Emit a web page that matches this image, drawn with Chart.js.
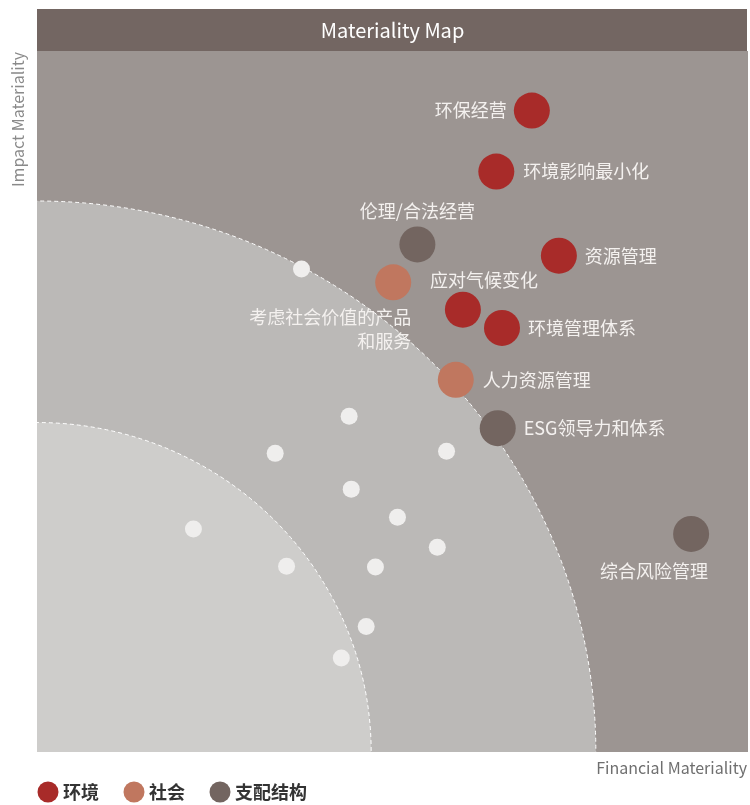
<!DOCTYPE html>
<html>
<head>
<meta charset="utf-8">
<script src="https://cdn.jsdelivr.net/npm/chart.js@4/dist/chart.umd.min.js"></script>
<style>
  html, body { margin: 0; padding: 0; background: #ffffff; overflow: hidden; }
  #wrap { width: 750px; height: 805px; position: relative; overflow: hidden; }
</style>
</head>
<body>
<div id="wrap"><canvas id="c"></canvas></div>
<script>
// ---------- DATA ----------
const chartTitle = 'Materiality Map';
const xAxisTitle = 'Financial Materiality';
const yAxisTitle = 'Impact Materiality';
const categories = ['环境', '社会', '支配结构'];

// 环境 (Environment)
const envNames = ['环保经营', '环境影响最小化', '资源管理', '应对气候变化', '环境管理体系'];
const envX = [6.96, 6.46, 7.34, 5.99, 6.54];
const envY = [9.15, 8.28, 7.08, 6.31, 6.05];

// 社会 (Social)
const socNames = ['考虑社会价值的产品\n和服务', '人力资源管理'];
const socX = [5.01, 5.89];
const socY = [6.70, 5.31];

// 支配结构 (Governance)
const govNames = ['伦理/合法经营', 'ESG领导力和体系', '综合风险管理'];
const govX = [5.35, 6.48, 9.20];
const govY = [7.24, 4.62, 3.11];

// Other (unlabelled) issues
const otherX = [3.72, 4.39, 3.35, 5.76, 4.42, 5.07, 2.20, 5.63, 3.51, 4.76, 4.63, 4.28];
const otherY = [6.89, 4.79, 4.26, 4.29, 3.75, 3.35, 3.18, 2.92, 2.65, 2.64, 1.79, 1.34];

// zone boundaries (radius in axis units, centred on origin)
const zoneRadii = [4.70, 7.86];

// ---------- STYLE ----------
const colors = { env: '#a82b29', soc: '#c0775f', gov: '#736560', other: '#efeeed' };
const zoneColors = ['#cecdcb', '#bbb9b7', '#9c9592'];
const FONT = '"Noto Sans CJK SC", "Noto Sans", sans-serif';

// label placement relative to the point (pixels)
const labelPlacement = {
  '环保经营': { dx: -25, dy: 0, align: 'right' },
  '环境影响最小化': { dx: 27, dy: 0, align: 'left' },
  '资源管理': { dx: 26, dy: 0, align: 'left' },
  '应对气候变化': { dx: -33, dy: -30, align: 'left' },
  '环境管理体系': { dx: 26, dy: 0, align: 'left' },
  '考虑社会价值的产品\n和服务': { dx: 18, dy: 35, align: 'right' },
  '人力资源管理': { dx: 27, dy: 0, align: 'left' },
  '伦理/合法经营': { dx: 0, dy: -33, align: 'center' },
  'ESG领导力和体系': { dx: 26, dy: 0, align: 'left' },
  '综合风险管理': { dx: -37, dy: 37, align: 'center' }
};

function pts(xs, ys) { return xs.map((x, i) => ({ x: x, y: ys[i] })); }

const datasets = [
  { label: 'other', names: [], data: pts(otherX, otherY), backgroundColor: colors.other, pointRadius: 8.5 },
  { label: categories[0], names: envNames, data: pts(envX, envY), backgroundColor: colors.env, pointRadius: 18 },
  { label: categories[1], names: socNames, data: pts(socX, socY), backgroundColor: colors.soc, pointRadius: 18 },
  { label: categories[2], names: govNames, data: pts(govX, govY), backgroundColor: colors.gov, pointRadius: 18 }
];
datasets.forEach(d => { d.borderWidth = 0; d.pointHoverRadius = d.pointRadius; d.pointBorderWidth = 0; });

const decorPlugin = {
  id: 'decor',
  beforeDraw(chart) {
    const ctx = chart.ctx, a = chart.chartArea;
    const xs = chart.scales.x, ys = chart.scales.y;
    ctx.save();
    ctx.fillStyle = '#ffffff';
    ctx.fillRect(0, 0, chart.width, chart.height);
    // title bar
    ctx.fillStyle = '#736662';
    ctx.fillRect(a.left, 9, a.right - a.left - 1, a.top - 9);
    ctx.fillStyle = '#ffffff';
    ctx.font = '20px ' + FONT;
    ctx.textAlign = 'center';
    ctx.textBaseline = 'middle';
    ctx.fillText(chartTitle, (a.left + a.right) / 2, 30);
    // zones
    ctx.beginPath();
    ctx.rect(a.left, a.top, a.right - a.left, a.bottom - a.top);
    ctx.clip();
    ctx.fillStyle = zoneColors[2];
    ctx.fillRect(a.left, a.top, a.right - a.left, a.bottom - a.top);
    const cx = xs.getPixelForValue(0), cy = ys.getPixelForValue(0);
    for (let i = zoneRadii.length - 1; i >= 0; i--) {
      const rx = xs.getPixelForValue(zoneRadii[i]) - cx;
      const ry = cy - ys.getPixelForValue(zoneRadii[i]);
      ctx.beginPath();
      ctx.ellipse(cx, cy, rx, ry, 0, 0, Math.PI * 2);
      ctx.fillStyle = zoneColors[i];
      ctx.fill();
    }
    ctx.setLineDash([4, 3]);
    ctx.strokeStyle = '#ffffff';
    ctx.lineWidth = 1;
    zoneRadii.forEach(r => {
      const rx = xs.getPixelForValue(r) - cx;
      const ry = cy - ys.getPixelForValue(r);
      ctx.beginPath();
      ctx.ellipse(cx, cy, rx, ry, 0, 0, Math.PI * 2);
      ctx.stroke();
    });
    ctx.restore();
  },
  afterDatasetsDraw(chart) {
    const ctx = chart.ctx, a = chart.chartArea;
    ctx.save();
    // point labels
    ctx.fillStyle = '#f4f1ef';
    ctx.font = '18px ' + FONT;
    ctx.textBaseline = 'middle';
    chart.data.datasets.forEach((ds, di) => {
      const meta = chart.getDatasetMeta(di);
      (ds.names || []).forEach((name, i) => {
        const el = meta.data[i];
        const p = labelPlacement[name] || { dx: 26, dy: 0, align: 'left' };
        ctx.textAlign = p.align;
        name.split('\n').forEach((line, li) => {
          ctx.fillText(line, el.x + p.dx, el.y + p.dy + li * 24);
        });
      });
    });
    // axis titles
    ctx.fillStyle = '#6f6f6f';
    ctx.font = '16px ' + FONT;
    ctx.textAlign = 'right';
    ctx.textBaseline = 'middle';
    ctx.fillText(xAxisTitle, a.right - 1, 768);
    ctx.save();
    ctx.translate(18, a.top + 1);
    ctx.rotate(-Math.PI / 2);
    ctx.textAlign = 'right';
    ctx.fillStyle = '#8a8a8a';
    ctx.fillText(yAxisTitle, 0, 0);
    ctx.restore();
    // legend
    const legendX = [48, 134, 220];
    ctx.font = 'bold 18px ' + FONT;
    ctx.textAlign = 'left';
    chart.data.datasets.slice(1).forEach((ds, i) => {
      ctx.fillStyle = ds.backgroundColor;
      ctx.beginPath();
      ctx.arc(legendX[i], 792, 10.5, 0, Math.PI * 2);
      ctx.fill();
      ctx.fillStyle = '#333333';
      ctx.fillText(ds.label, legendX[i] + 15, 792);
    });
    ctx.restore();
  }
};

new Chart(document.getElementById('c'), {
  type: 'scatter',
  data: { datasets: datasets },
  options: {
    responsive: true,
    maintainAspectRatio: false,
    animation: false,
    events: [],
    layout: { autoPadding: false, padding: { left: 37, right: 2, top: 51, bottom: 53 } },
    scales: {
      x: { type: 'linear', min: 0, max: 10, display: false },
      y: { type: 'linear', min: 0, max: 10, display: false }
    },
    plugins: {
      legend: { display: false },
      title: { display: false },
      tooltip: { enabled: false }
    }
  },
  plugins: [decorPlugin]
});
</script>
</body>
</html>
